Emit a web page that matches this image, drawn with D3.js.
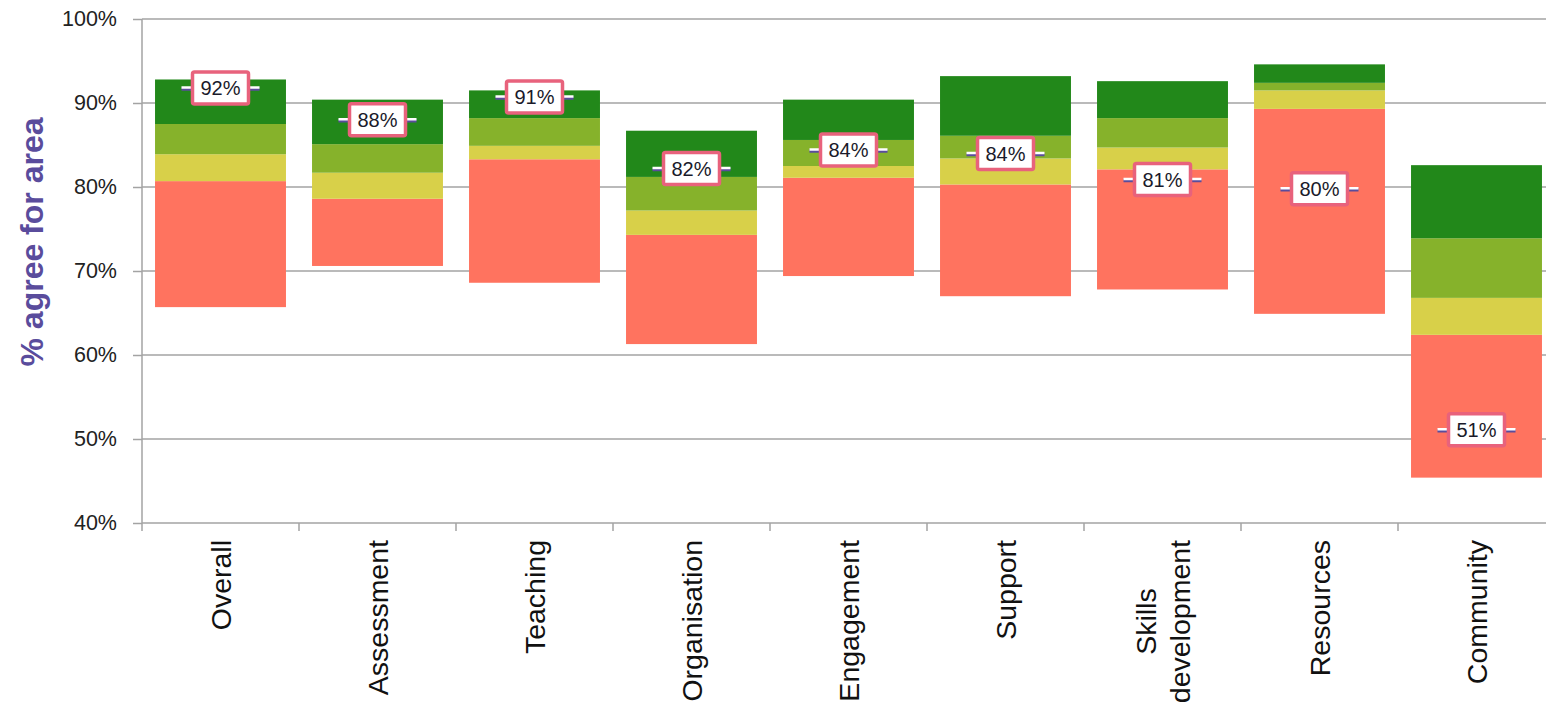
<!DOCTYPE html>
<html>
<head>
<meta charset="utf-8">
<script src="https://cdn.jsdelivr.net/npm/d3@7"></script>
<style>
  html, body { margin: 0; padding: 0; background: #fff; }
  svg { display: block; font-family: "Liberation Sans", Arial, sans-serif; }
</style>
</head>
<body>
<svg id="chart" width="1546" height="711"></svg>
<script>
// Survey areas shown along the x axis
const categories = ["Overall", "Assessment", "Teaching", "Organisation", "Engagement",
                    "Support", "Skills development", "Resources", "Community"];

// Band boundaries (% agree) for each area, bottom to top
const lowest   = [65.7, 70.6, 68.6, 61.3, 69.4, 67.0, 67.8, 64.9, 45.4];
const quartile1 = [80.7, 78.6, 83.3, 74.3, 81.1, 80.3, 82.1, 89.3, 62.4];
const median   = [83.9, 81.7, 84.9, 77.2, 82.5, 83.4, 84.7, 91.5, 66.8];
const quartile3 = [87.5, 85.1, 88.2, 81.2, 85.6, 86.1, 88.2, 92.4, 73.9];
const highest  = [92.8, 90.4, 91.5, 86.7, 90.4, 93.2, 92.6, 94.6, 82.6];

// This institution's score in each area
const score = [91.8, 88.0, 90.7, 82.2, 84.4, 84.0, 80.9, 79.8, 51.1];

// Y axis ticks
const yTicks = [40, 50, 60, 70, 80, 90, 100];

const bandColors = ["#ff735f", "#d8d049", "#86b22b", "#22881a"];

const svg = d3.select("#chart");

const y = d3.scaleLinear().domain([40, 100]).range([523, 19]);
const x = d3.scaleBand().domain(categories).range([142, 1555])
  .paddingInner(0.166).paddingOuter(0.083);

// Gridlines
svg.append("g")
  .selectAll("line")
  .data(yTicks)
  .join("line")
  .attr("x1", 142).attr("x2", 1546)
  .attr("y1", d => y(d)).attr("y2", d => y(d))
  .attr("stroke", "#a3a3a3").attr("stroke-width", 1.5);

// Y axis
const yAxis = svg.append("g")
  .attr("transform", "translate(142,0)")
  .call(d3.axisLeft(y).tickValues(yTicks).tickFormat(d => d + "%").tickSizeInner(9).tickSizeOuter(0).tickPadding(16));
yAxis.select(".domain").remove();
yAxis.selectAll(".tick line").attr("stroke", "#a3a3a3").attr("stroke-width", 1.5);
yAxis.selectAll(".tick text")
  .attr("font-size", 21.5).attr("fill", "#222")
  .attr("font-family", "'Liberation Sans', Arial, sans-serif");

svg.append("line")
  .attr("x1", 142).attr("x2", 142).attr("y1", y(100)).attr("y2", 531)
  .attr("stroke", "#a3a3a3").attr("stroke-width", 1.5);

// X axis ticks at band boundaries
const step = x.step();
const boundaries = d3.range(categories.length + 1).map(i => 142 + i * step);
svg.append("g")
  .selectAll("line")
  .data(boundaries.slice(1))
  .join("line")
  .attr("x1", d => d).attr("x2", d => d)
  .attr("y1", y(40)).attr("y2", 531)
  .attr("stroke", "#a3a3a3").attr("stroke-width", 1.5);

// Stacked floating bars
const rows = categories.map((c, i) => ({
  cat: c,
  edges: [lowest[i], quartile1[i], median[i], quartile3[i], highest[i]],
  score: score[i]
}));

const barG = svg.append("g");
rows.forEach(r => {
  for (let k = 0; k < 4; k++) {
    barG.append("rect")
      .attr("x", x(r.cat))
      .attr("width", x.bandwidth())
      .attr("y", y(r.edges[k + 1]))
      .attr("height", y(r.edges[k]) - y(r.edges[k + 1]))
      .attr("fill", bandColors[k]);
  }
});

// Score markers with value labels
const fmt = d3.format(".0f");
const mk = svg.append("g").selectAll("g").data(rows).join("g")
  .attr("transform", d => `translate(${x(d.cat) + x.bandwidth() / 2},${y(d.score)})`);

mk.append("line")
  .attr("x1", -39).attr("x2", 39).attr("y1", 1).attr("y2", 1)
  .attr("stroke", "#5a4c9c").attr("stroke-width", 3.5);
mk.append("line")
  .attr("x1", -39).attr("x2", 39).attr("y1", -0.5).attr("y2", -0.5)
  .attr("stroke", "#ffffff").attr("stroke-width", 2.5);
mk.append("rect")
  .attr("x", -28).attr("y", -16).attr("width", 56).attr("height", 32).attr("rx", 2)
  .attr("fill", "#fff").attr("stroke", "#e8627c").attr("stroke-width", 3.5);
mk.append("text")
  .attr("text-anchor", "middle").attr("dy", "0.36em")
  .attr("font-size", 20).attr("fill", "#1a1a2a")
  .text(d => fmt(d.score) + "%");

// Category labels, rotated
const labelG = svg.append("g");
rows.forEach(r => {
  const cx = x(r.cat) + x.bandwidth() / 2;
  const parts = r.cat === "Skills development" ? ["Skills", "development"] : [r.cat];
  const t = labelG.append("text")
    .attr("font-size", 28.5).attr("fill", "#111")
    .attr("text-anchor", "middle");
  parts.forEach((p, i) => {
    t.append("tspan").attr("x", 0).attr("dy", i === 0 ? 0 : 34).text(p);
  });
  const w = d3.max(t.selectAll("tspan").nodes(), n => n.getComputedTextLength());
  const lineOffset = (parts.length - 1) * 34 / 2;
  // baseline shift so the text block is centred on the band
  t.attr("transform", `translate(${cx + 10 - lineOffset},${540 + w / 2}) rotate(-90)`);
});

// Y axis title
svg.append("text")
  .attr("transform", "translate(43,242) rotate(-90)")
  .attr("text-anchor", "middle")
  .attr("font-size", 32).attr("font-weight", "bold")
  .attr("fill", "#5a4c9c")
  .text("% agree for area");
</script>
</body>
</html>
